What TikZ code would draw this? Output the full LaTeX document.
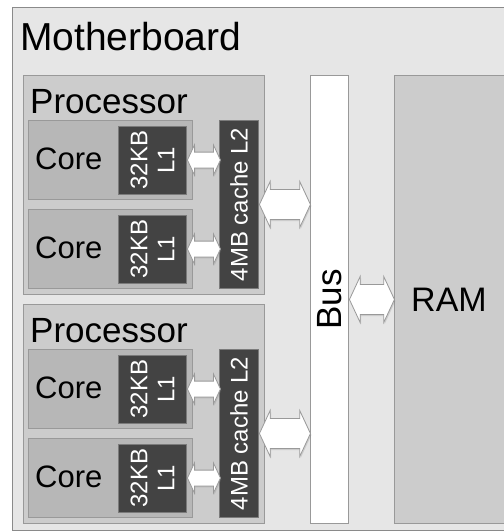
\documentclass[tikz,border=0pt]{standalone}
\usepackage{fontspec}
\setmainfont{Liberation Sans}
\usetikzlibrary{positioning, shapes.arrows, shadows}
\definecolor{boardgrey}{HTML}{E6E6E6}
\definecolor{procgrey}{HTML}{CCCCCC}
\definecolor{coregrey}{HTML}{B7B7B7}
\definecolor{cachegrey}{HTML}{434343}
\definecolor{edgegrey}{HTML}{999999}

\begin{document}
\begin{tikzpicture}[x=1pt, y=-1pt,
    box/.style={draw=edgegrey, line width=1pt, inner sep=0pt, anchor=north west},
    cachebox/.style={box, fill=cachegrey, draw=cachegrey!70!white},
    txt/.style={inner sep=0pt, font=\fontsize{#1}{#1}\selectfont},
    cachetxt/.style={inner sep=0pt, text=white, align=center, rotate=90,
      font=\fontsize{24}{27}\selectfont},
    link/.style={double arrow, draw=edgegrey, fill=white, line width=0.8pt,
      inner xsep=0pt, double arrow tip angle=130, double arrow head indent=0pt,
      drop shadow={opacity=0.25, shadow xshift=1pt, shadow yshift=-1.5pt}},
    smalllink/.style={link, minimum height=33pt, minimum width=28pt, inner ysep=7.5pt},
    biglink/.style={link, minimum width=46pt, inner ysep=13pt}]
  \useasboundingbox (0,0) rectangle (504,531);
  \clip (0,0) rectangle (504,531);

  \node[box, fill=boardgrey, draw=edgegrey!90!black, minimum width=540pt,
        minimum height=523pt] (board) at (12,7) {};
  \node[txt=39, anchor=base west] (boardlabel) at ([xshift=8pt, yshift=-43pt]board.north west) {Motherboard};

  \node[box, fill=white, minimum width=38pt, minimum height=448pt] (bus) at (310,75) {};
  \node[txt=35, rotate=90] (buslabel) at (bus.center) {Bus};
  \node[box, fill=procgrey, minimum width=160pt, minimum height=448pt] (ram) at ([xshift=45pt]bus.north east) {};
  \node[txt=34, anchor=west] (ramlabel) at ([xshift=17pt]ram.west) {RAM};
  \node[biglink, minimum height=45pt, right=0pt of bus] (ramarrow) {};

  \foreach \p/\y in {1/75, 2/304} {
    \node[box, fill=procgrey, minimum width=241pt, minimum height=219pt] (proc\p) at (23,\y) {};
    \node[txt=35, anchor=base west] (proclabel\p) at ([xshift=7pt, yshift=-38pt]proc\p.north west) {Processor};
    \node[cachebox, minimum width=39pt, minimum height=168pt] (ltwo\p) at ([xshift=196pt, yshift=-45pt]proc\p.north west) {};
    \node[cachetxt] (ltwolabel\p) at (ltwo\p.center) {4MB cache L2};
    \node[biglink, minimum height=51pt, right=0pt of ltwo\p] (busarrow\p) {};
    \foreach \c/\dy in {a/45pt, b/134pt} {
      \node[box, fill=coregrey, minimum width=164pt, minimum height=79pt] (core\p\c) at ([xshift=5pt, yshift=-\dy]proc\p.north west) {};
      \node[txt=31, anchor=base west] (corelabel\p\c) at ([xshift=7pt, yshift=-9pt]core\p\c.west) {Core};
      \node[cachebox, minimum width=68pt, minimum height=68pt, anchor=west] (lone\p\c) at ([xshift=90pt]core\p\c.west) {};
      \node[cachetxt] (lonelabel\p\c) at (lone\p\c.center) {32KB\\L1};
      \node[smalllink, right=0pt of lone\p\c] (cachearrow\p\c) {};
    }
  }
\end{tikzpicture}
\end{document}
